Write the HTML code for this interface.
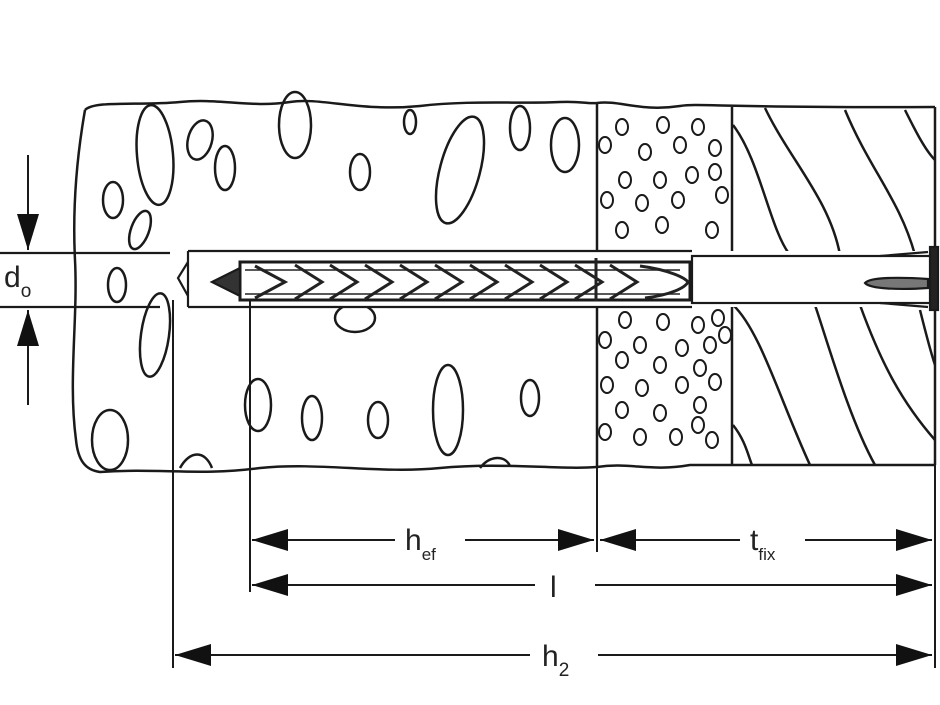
<!DOCTYPE html>
<html><head><style>body{margin:0;background:#fff}svg{display:block}</style></head><body>
<svg width="940" height="705" viewBox="0 0 940 705" xmlns="http://www.w3.org/2000/svg" font-family="Liberation Sans, sans-serif">
<defs>
<marker id="a" markerWidth="36" markerHeight="22" refX="36" refY="11" orient="auto" markerUnits="userSpaceOnUse"><path d="M36,11 L0,0 L0,22 Z" fill="#111"/></marker>
</defs>
<g fill="none" stroke="#1a1a1a" stroke-width="2.5">
<path d="M85,110 C95,100 140,106 180,102 C220,98 250,108 290,102 C320,97 360,112 420,106 C470,100 520,104 560,102 C580,101 590,104 597,103"/>
<path d="M85,110 C78,150 72,200 75,260 C78,320 68,380 76,440 C78,460 85,470 100,472 C160,468 200,476 260,468 C320,462 380,474 440,468 C500,462 560,470 597,467"/>
<path d="M597,103 C620,100 640,112 680,106 C700,103 720,108 935,107"/>
<path d="M597,467 C630,462 650,472 690,465 L935,465"/>
<line x1="597" y1="103" x2="597" y2="467"/>
<line x1="732" y1="107" x2="732" y2="465"/>
<line x1="935" y1="107" x2="935" y2="465"/>
<path d="M733,125 C760,160 770,230 790,255"/>
<path d="M765,108 C790,160 830,200 840,255"/>
<path d="M845,110 C870,170 900,200 915,255"/>
<path d="M905,110 C915,130 925,150 935,160"/>
<path d="M733,305 C760,330 780,400 810,465"/>
<path d="M815,305 C830,350 850,420 875,465"/>
<path d="M860,305 C880,360 900,400 935,440"/>
<path d="M920,310 C925,330 930,350 935,365"/>
<path d="M733,425 C745,440 748,455 752,465"/>
<ellipse cx="155" cy="155" rx="18" ry="50" transform="rotate(-5 155 155)"/>
<ellipse cx="113" cy="200" rx="10" ry="18"/>
<ellipse cx="140" cy="230" rx="9" ry="20" transform="rotate(20 140 230)"/>
<ellipse cx="117" cy="285" rx="9" ry="17"/>
<ellipse cx="155" cy="335" rx="14" ry="42" transform="rotate(8 155 335)"/>
<ellipse cx="200" cy="140" rx="12" ry="20" transform="rotate(15 200 140)"/>
<ellipse cx="225" cy="168" rx="10" ry="22"/>
<ellipse cx="295" cy="125" rx="16" ry="33"/>
<ellipse cx="360" cy="172" rx="10" ry="18"/>
<ellipse cx="410" cy="122" rx="6" ry="12"/>
<ellipse cx="460" cy="170" rx="20" ry="55" transform="rotate(15 460 170)"/>
<ellipse cx="520" cy="128" rx="10" ry="22"/>
<ellipse cx="565" cy="145" rx="14" ry="27"/>
<ellipse cx="355" cy="318" rx="20" ry="14"/>
<ellipse cx="258" cy="405" rx="13" ry="26"/>
<ellipse cx="312" cy="418" rx="10" ry="22"/>
<ellipse cx="378" cy="420" rx="10" ry="18"/>
<ellipse cx="448" cy="410" rx="15" ry="45"/>
<ellipse cx="530" cy="398" rx="9" ry="18"/>
<ellipse cx="110" cy="440" rx="18" ry="30"/>
<path d="M180,468 C190,450 205,450 212,468"/>
<path d="M480,468 C490,455 505,455 510,466"/>
<g stroke-width="2">
<ellipse cx="622" cy="127" rx="6" ry="8"/><ellipse cx="663" cy="125" rx="6" ry="8"/><ellipse cx="698" cy="127" rx="6" ry="8"/>
<ellipse cx="605" cy="145" rx="6" ry="8"/><ellipse cx="645" cy="152" rx="6" ry="8"/><ellipse cx="680" cy="145" rx="6" ry="8"/><ellipse cx="715" cy="148" rx="6" ry="8"/>
<ellipse cx="625" cy="180" rx="6" ry="8"/><ellipse cx="660" cy="180" rx="6" ry="8"/><ellipse cx="692" cy="175" rx="6" ry="8"/><ellipse cx="715" cy="172" rx="6" ry="8"/>
<ellipse cx="607" cy="200" rx="6" ry="8"/><ellipse cx="642" cy="203" rx="6" ry="8"/><ellipse cx="678" cy="200" rx="6" ry="8"/><ellipse cx="722" cy="195" rx="6" ry="8"/>
<ellipse cx="622" cy="230" rx="6" ry="8"/><ellipse cx="662" cy="225" rx="6" ry="8"/><ellipse cx="712" cy="230" rx="6" ry="8"/>
<ellipse cx="625" cy="320" rx="6" ry="8"/><ellipse cx="663" cy="322" rx="6" ry="8"/><ellipse cx="698" cy="325" rx="6" ry="8"/><ellipse cx="718" cy="318" rx="6" ry="8"/>
<ellipse cx="605" cy="340" rx="6" ry="8"/><ellipse cx="640" cy="345" rx="6" ry="8"/><ellipse cx="682" cy="348" rx="6" ry="8"/><ellipse cx="710" cy="345" rx="6" ry="8"/><ellipse cx="725" cy="335" rx="6" ry="8"/>
<ellipse cx="622" cy="360" rx="6" ry="8"/><ellipse cx="660" cy="365" rx="6" ry="8"/><ellipse cx="700" cy="368" rx="6" ry="8"/>
<ellipse cx="607" cy="385" rx="6" ry="8"/><ellipse cx="642" cy="388" rx="6" ry="8"/><ellipse cx="682" cy="385" rx="6" ry="8"/><ellipse cx="715" cy="382" rx="6" ry="8"/>
<ellipse cx="622" cy="410" rx="6" ry="8"/><ellipse cx="660" cy="413" rx="6" ry="8"/><ellipse cx="700" cy="405" rx="6" ry="8"/>
<ellipse cx="605" cy="432" rx="6" ry="8"/><ellipse cx="640" cy="437" rx="6" ry="8"/><ellipse cx="676" cy="437" rx="6" ry="8"/><ellipse cx="698" cy="425" rx="6" ry="8"/><ellipse cx="712" cy="440" rx="6" ry="8"/>
</g>
</g>
<rect x="188" y="251" width="750" height="56" fill="#fff" stroke="none"/>
<g fill="none" stroke="#1a1a1a" stroke-width="2.2">
<path d="M188,251 L692,251 M188,307 L692,307 M188,251 L188,307"/>
<path d="M188,262 L178,278 L188,296"/>
<line x1="0" y1="253" x2="170" y2="253"/>
<line x1="0" y1="307" x2="160" y2="307"/>
<rect x="692" y="256" width="240" height="47" fill="#fff"/>
<rect x="930" y="247" width="8" height="63" fill="#222"/>
<path d="M865,283 C870,277 900,277 928,279 L928,288 C900,290 870,289 865,283Z" fill="#777"/>
<path d="M880,256 L928,252 M880,303 L928,307"/>
<path d="M240,262 L690,262 L690,300 L240,300 Z" stroke-width="3"/>
<path d="M212,282 L240,268 L240,296 Z" fill="#333"/>
</g>
<g fill="none" stroke="#222" stroke-width="3">
<path d="M255,266 L285,282 L255,298"/><path d="M295,265 L322,282 L295,299"/><path d="M330,265 L357,282 L330,299"/>
<path d="M365,265 L392,282 L365,299"/><path d="M400,265 L427,282 L400,299"/><path d="M435,265 L462,282 L435,299"/>
<path d="M470,265 L497,282 L470,299"/><path d="M505,265 L532,282 L505,299"/><path d="M540,265 L567,282 L540,299"/>
<path d="M575,265 L602,282 L575,299"/><path d="M610,265 L637,282 L610,299"/><path d="M640,266 C670,270 685,278 688,282 C685,288 670,295 645,298"/>
<line x1="596" y1="258" x2="596" y2="301"/>
<line x1="245" y1="270" x2="680" y2="270" stroke-width="1.5"/><line x1="245" y1="294" x2="680" y2="294" stroke-width="1.5"/>
</g>
<g stroke="#1a1a1a" stroke-width="2" fill="none">
<line x1="173" y1="300" x2="173" y2="668"/>
<line x1="250" y1="301" x2="250" y2="592"/>
<line x1="597" y1="467" x2="597" y2="552"/>
<line x1="935" y1="465" x2="935" y2="668"/>
<line x1="28" y1="155" x2="28" y2="250" marker-end="url(#a)"/>
<line x1="28" y1="405" x2="28" y2="310" marker-end="url(#a)"/>
<line x1="395" y1="540" x2="252" y2="540" marker-end="url(#a)"/>
<line x1="465" y1="540" x2="594" y2="540" marker-end="url(#a)"/>
<line x1="740" y1="540" x2="600" y2="540" marker-end="url(#a)"/>
<line x1="805" y1="540" x2="932" y2="540" marker-end="url(#a)"/>
<line x1="535" y1="585" x2="252" y2="585" marker-end="url(#a)"/>
<line x1="595" y1="585" x2="932" y2="585" marker-end="url(#a)"/>
<line x1="530" y1="655" x2="175" y2="655" marker-end="url(#a)"/>
<line x1="598" y1="655" x2="932" y2="655" marker-end="url(#a)"/>
</g>
<g fill="#222" font-size="30">
<text x="4" y="287">d<tspan font-size="19" dy="10">o</tspan></text>
<text x="405" y="550">h<tspan font-size="17" dy="10">ef</tspan></text>
<text x="750" y="550">t<tspan font-size="17" dy="10">fix</tspan></text>
<text x="550" y="597">l</text>
<text x="542" y="666">h<tspan font-size="19" dy="10">2</tspan></text>
</g>
</svg>
</body></html>
